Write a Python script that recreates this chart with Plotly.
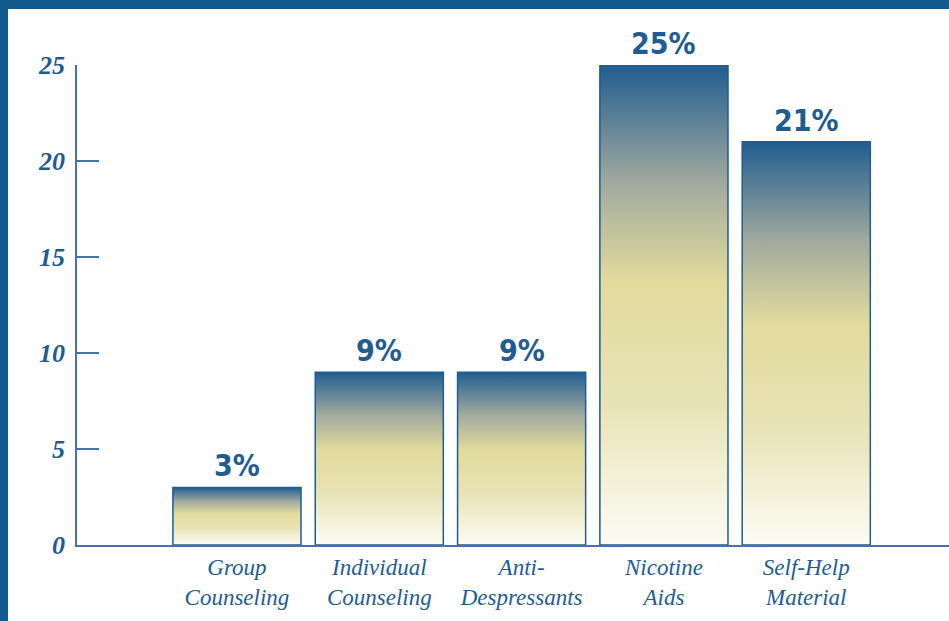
import plotly.graph_objects as go

categories = ["Group<br>Counseling", "Individual<br>Counseling", "Anti-<br>Despressants",
              "Nicotine<br>Aids", "Self-Help<br>Material"]
values = [3, 9, 9, 25, 21]
value_labels = ["3%", "9%", "9%", "25%", "21%"]
y_ticks = [0, 5, 10, 15, 20, 25]

BLUE = "#1f5c8f"
AXIS = "#4a6fb5"
BAR_W = 0.9

# plot area geometry (px)
W, H = 949, 621
L, R, T, B = 77, 0, 65, 76
pw, ph = W - L - R, H - T - B

fig = go.Figure()
for i, v in enumerate(values):
    x0, x1 = i - BAR_W / 2, i + BAR_W / 2
    fig.add_trace(go.Scatter(
        x=[x0, x0, x1, x1, x0], y=[0, v, v, 0, 0],
        mode="lines", fill="toself", cliponaxis=False,
        line=dict(color=BLUE, width=1.5),
        fillgradient=dict(type="vertical", start=0, stop=v,
                          colorscale=[[0, "#fdfcf4"], [0.3, "#e8e3b5"], [0.55, "#e1db9c"],
                                      [0.75, "#a3ab9e"], [1, "#215d90"]]),
        hoverinfo="skip", showlegend=False))
    fig.add_annotation(x=i, y=v, text=value_labels[i], showarrow=False,
                       yanchor="bottom", yshift=2,
                       font=dict(family="DejaVu Sans Condensed", size=30, color=BLUE, weight="bold"))

# frame bands
fig.add_shape(type="rect", xref="paper", yref="paper", x0=-1, x1=(8 - L) / pw, y0=-1, y1=2,
              fillcolor="#135b8f", line_width=0, layer="above")
fig.add_shape(type="rect", xref="paper", yref="paper", x0=-1, x1=2, y0=1 + (T - 9) / ph, y1=2,
              fillcolor="#135b8f", line_width=0, layer="above")

x_lo = -1.124
x_hi = 5.003

fig.update_layout(
    width=W, height=H,
    margin=dict(l=L, r=R, t=T, b=B),
    paper_bgcolor="white", plot_bgcolor="white",
    xaxis=dict(range=[x_lo, x_hi], tickvals=list(range(len(categories))), ticktext=categories,
               showgrid=False, zeroline=False, showline=True, linecolor=AXIS, linewidth=2,
               ticks="", tickfont=dict(family="Liberation Serif", size=23, color=BLUE, style="italic")),
    yaxis=dict(range=[0, 25], tickvals=y_ticks, showgrid=False, zeroline=False,
               showline=True, linecolor=AXIS, linewidth=1.5,
               ticks="inside", ticklen=22, tickwidth=1.5, tickcolor=AXIS, ticklabelstandoff=5,
               tickfont=dict(family="Liberation Serif", size=26, color=BLUE, style="italic", weight="bold")),
)

fig.write_html("out.html", config={"displayModeBar": False},
               post_script="document.body.style.margin='0';")
